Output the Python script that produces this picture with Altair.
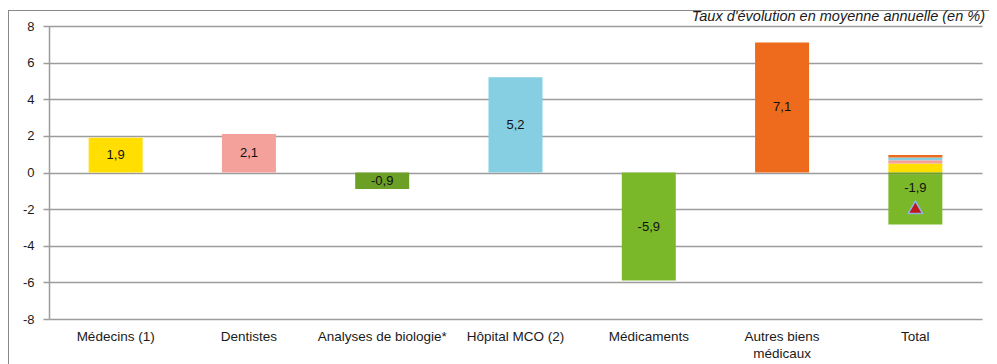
import altair as alt
import pandas as pd

categories = ["Médecins (1)", "Dentistes", "Analyses de biologie*", "Hôpital MCO (2)",
              "Médicaments", "Autres biens médicaux", "Total"]
rates = [1.9, 2.1, -0.9, 5.2, -5.9, 7.1]
colors = ["#FFDE00", "#F4A09B", "#6B9F25", "#86CEE1", "#7AB82A", "#EE6A1C"]
contributions = [0.49, 0.18, -0.12, 0.15, -2.72, 0.13]
stack_order = [1, 2, 3, 4, 5, 6]
total_rate = -1.9
y_ticks = [-8, -6, -4, -2, 0, 2, 4, 6, 8]
subtitle = "Taux d'évolution en moyenne annuelle (en %)"


def fr(v):
    return f"{v:.1f}".replace(".", ",")


bars_df = pd.DataFrame({"cat": categories[:6], "value": rates, "color": colors,
                        "label": [fr(v) for v in rates]})
contrib_df = pd.DataFrame({"cat": ["Total"] * 6, "part": categories[:6], "value": contributions,
                           "color": colors, "ord": stack_order})
total_df = pd.DataFrame({"cat": ["Total"], "value": [total_rate], "label": [fr(total_rate)]})
one = pd.DataFrame({"k": [0]})

FONT = "Liberation Sans"
GRID = "#9c9c9c"

x_scale = alt.Scale(domain=categories, paddingInner=0.595, paddingOuter=0.2975)
y_scale = alt.Scale(domain=[-8, 8], nice=False, zero=False)

x_axis = alt.Axis(title=None, labelAngle=0, domain=False, ticks=False, labelPadding=10,
                  labelFontSize=13.5, labelColor="#1a1a1a", labelLimit=300, labelLineHeight=17,
                  labelExpr="datum.label == 'Autres biens médicaux' ? ['Autres biens', 'médicaux'] : datum.label")
y_axis = alt.Axis(title=None, values=y_ticks, grid=True, gridColor=GRID, gridWidth=1.5,
                  domainColor=GRID, domainWidth=1.5, tickColor=GRID, tickWidth=1.5, tickSize=6,
                  labelPadding=9, labelFontSize=13, labelColor="#1a1a1a",
                  labelExpr="'' + datum.value")

X = alt.X("cat:N", scale=x_scale, sort=categories, axis=x_axis)


def Y(field, **kw):
    return alt.Y(field, scale=y_scale, axis=y_axis, **kw)


bars = alt.Chart(bars_df).mark_bar().encode(
    x=X, y=Y("value:Q"),
    color=alt.Color("color:N", scale=None),
)

bar_text = alt.Chart(bars_df).transform_calculate(mid="datum.value / 2").mark_text(
    fontSize=13, color="#111111").encode(
    x=X, y=Y("mid:Q"), text="label:N",
)

total_bar = alt.Chart(contrib_df).mark_bar().encode(
    x=X, y=Y("value:Q", stack="zero"),
    color=alt.Color("color:N", scale=None),
    order=alt.Order("ord:Q"),
)

total_point = alt.Chart(total_df).mark_point(
    shape="triangle-up", filled=True, fill="#C0161C", stroke="#8DB3E2", strokeWidth=1.5,
    size=210, opacity=1).encode(x=X, y=Y("value:Q"))

total_text = alt.Chart(total_df).mark_text(fontSize=13, color="#111111", dy=-19).encode(
    x=X, y=Y("value:Q"), text="label:N",
)

frame_left = alt.Chart(one).mark_rule(color="#888888", strokeWidth=1).encode(
    x=alt.value(-40.5), y=alt.value(-16), y2=alt.value(360))
frame_top = alt.Chart(one).mark_rule(color="#888888", strokeWidth=1).encode(
    x=alt.value(-41), x2=alt.value(960), y=alt.value(-15.5))

sub = alt.Chart(one).mark_text(align="right", baseline="alphabetic", fontStyle="italic",
                               fontSize=14.5, color="#1a1a1a").encode(
    x=alt.value(936), y=alt.value(-5), text=alt.value(subtitle))

chart = alt.layer(bars, total_bar, bar_text, total_point, total_text, frame_left, frame_top, sub).properties(
    width=933, height=293,
    padding={"left": 41, "top": 18, "right": 7, "bottom": 45},
    autosize=alt.AutoSizeParams(type="none"),
).configure(font=FONT).configure_view(stroke=None)

chart.save("out.html", embed_options={"renderer": "svg", "actions": False})
